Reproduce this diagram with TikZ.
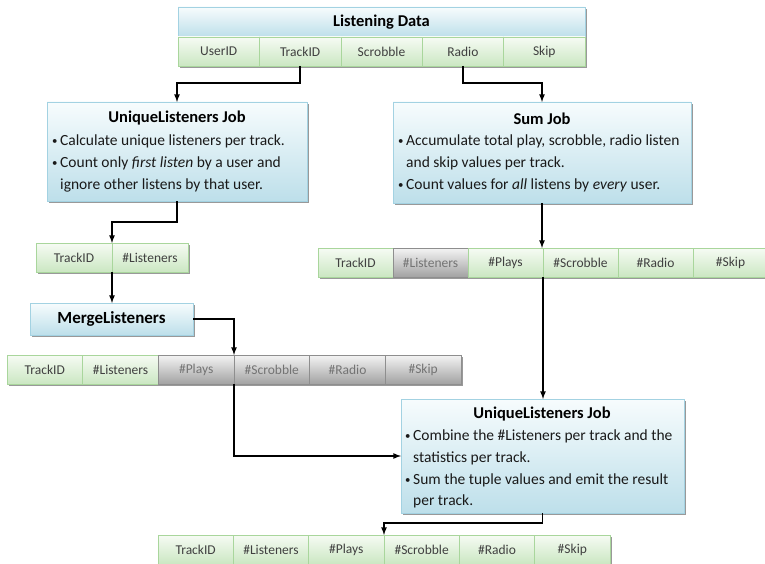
\documentclass[tikz,border=0pt]{standalone}
\usepackage{fontspec}
\setmainfont{Carlito}
\usetikzlibrary{positioning,arrows,shadows}

\definecolor{celltop}{HTML}{F6FBF4}
\definecolor{cellbot}{HTML}{CBE7C2}
\definecolor{cellline}{HTML}{A9D69C}
\definecolor{jobtop}{HTML}{F7FCFD}
\definecolor{jobbot}{HTML}{BDDFEA}
\definecolor{jobline}{HTML}{A3D2E2}
\definecolor{greytop}{HTML}{F4F4F4}
\definecolor{greybot}{HTML}{A2A2A2}
\definecolor{greyline}{HTML}{8E8E8E}

\newcommand{\bul}{\makebox[8pt][l]{\raisebox{1pt}{\scalebox{0.7}{\textbullet}}}}
\newcommand{\cont}{\hspace*{8pt}}

\tikzset{
  shade/.style={drop shadow={shadow xshift=1.6pt, shadow yshift=-1.8pt, fill=black, opacity=0.4}},
  cell/.style={draw=cellline, top color=celltop, bottom color=cellbot, shade,
    minimum width=#1, minimum height=29pt, inner sep=0pt, outer sep=0pt,
    text=black!75, font=\fontsize{13.5}{15}\selectfont},
  greycell/.style={cell=#1, draw=greyline, top color=greytop, bottom color=greybot, text=black!55},
  jobbox/.style={draw=jobline, top color=jobtop, bottom color=jobbot, shade,
    inner sep=0pt, outer sep=0pt},
  jobtitle/.style={font=\bfseries\fontsize{16.5}{18}\selectfont, inner sep=0pt},
  jobtext/.style={align=left, inner sep=0pt, text=black!90, font=\fontsize{15.5}{21.8}\selectfont},
  flow/.style={line width=1.6pt, -latex}
}

\begin{document}
\begin{tikzpicture}[x=1pt,y=-1pt]
    \useasboundingbox (0,0) rectangle (765,564);

    % input table
    \node[jobbox, minimum width=407pt, minimum height=30pt, jobtitle] (ld) at (381.5,22) {Listening Data};
    \node[cell=81.4pt, anchor=north west] (ld1) at (ld.south west) {UserID};
    \node[cell=81.4pt, right=0pt of ld1] (ld2) {TrackID};
    \node[cell=81.4pt, right=0pt of ld2] (ld3) {Scrobble};
    \node[cell=81.4pt, right=0pt of ld3] (ld4) {Radio};
    \node[cell=81.4pt, right=0pt of ld4] (ld5) {Skip};

    % first jobs
    \node[jobbox, minimum width=260pt, minimum height=99pt] (ulj) at (177,151.5) {};
    \node[jobtitle] (ulj-title) at (177,118.5) {UniqueListeners Job};
    \node[jobtext, anchor=north west] (ulj-text) at (52,134.5) {\bul Calculate unique listeners per track.\\
      \bul Count only \emph{first listen} by a user and\\
      \cont ignore other listens by that user.};

    \node[jobbox, minimum width=298pt, minimum height=101pt] (sum) at (542,152.5) {};
    \node[jobtitle] (sum-title) at (542,118.5) {Sum Job};
    \node[jobtext, anchor=north west] (sum-text) at (398,134.5) {\bul Accumulate total play, scrobble, radio listen\\
      \cont and skip values per track.\\
      \bul Count values for \emph{all} listens by \emph{every} user.};

    % listeners per track
    \node[cell=76pt, anchor=north west] (tl1) at (36,243) {TrackID};
    \node[cell=76pt, right=0pt of tl1] (tl2) {\#Listeners};

    \node[jobbox, minimum width=163pt, minimum height=32pt, jobtitle, font=\bfseries\fontsize{17}{19}\selectfont] (merge) at (111.5,319) {MergeListeners};

    \node[cell=75.67pt, anchor=north west] (m1) at (7,355) {TrackID};
    \node[cell=75.67pt, right=0pt of m1] (m2) {\#Listeners};
    \node[greycell=75.67pt, right=0pt of m2] (m3) {\#Plays};
    \node[greycell=75.67pt, right=0pt of m3] (m4) {\#Scrobble};
    \node[greycell=75.67pt, right=0pt of m4] (m5) {\#Radio};
    \node[greycell=75.67pt, right=0pt of m5] (m6) {\#Skip};

    % statistics per track
    \node[cell=75pt, anchor=north west] (s1) at (318,248) {TrackID};
    \node[greycell=75pt, right=0pt of s1] (s2) {\#Listeners};
    \node[cell=75pt, right=0pt of s2] (s3) {\#Plays};
    \node[cell=75pt, right=0pt of s3] (s4) {\#Scrobble};
    \node[cell=75pt, right=0pt of s4] (s5) {\#Radio};
    \node[cell=75pt, right=0pt of s5] (s6) {\#Skip};

    % combining job
    \node[jobbox, minimum width=283pt, minimum height=114pt] (job2) at (542.5,456) {};
    \node[jobtitle] (job2-title) at (542,414) {UniqueListeners Job};
    \node[jobtext, anchor=north west] (job2-text) at (405,429.5) {\bul Combine the \#Listeners per track and the\\
      \cont statistics per track.\\
      \bul Sum the tuple values and emit the result\\
      \cont per track.};

    % result
    \node[cell=75.33pt, anchor=north west] (b1) at (158,535) {TrackID};
    \node[cell=75.33pt, right=0pt of b1] (b2) {\#Listeners};
    \node[cell=75.33pt, right=0pt of b2] (b3) {\#Plays};
    \node[cell=75.33pt, right=0pt of b3] (b4) {\#Scrobble};
    \node[cell=75.33pt, right=0pt of b4] (b5) {\#Radio};
    \node[cell=75.33pt, right=0pt of b5] (b6) {\#Skip};

    % connectors
    \draw[flow] (ld2.south) -- ++(0,17) -| (ulj.north);
    \draw[flow] (ld4.south) -- ++(0,17) -| (sum.north);
    \draw[flow] (ulj.south) -- ++(0,21) -| (tl1.north east);
    \draw[flow] (tl1.south east) -- (tl1.south east |- merge.north);
    \draw[flow] (merge.east) -| (m3.north east);
    \draw[flow] (sum.south) -- (sum.south |- s3.north);
    \draw[flow] (s3.south east) -- (s3.south east |- job2.north);
    \draw[flow] (m3.south east) |- (job2.west);
    \draw[flow] (job2.south) -- ++(0,10) -| (b3.north east);
\end{tikzpicture}
\end{document}
